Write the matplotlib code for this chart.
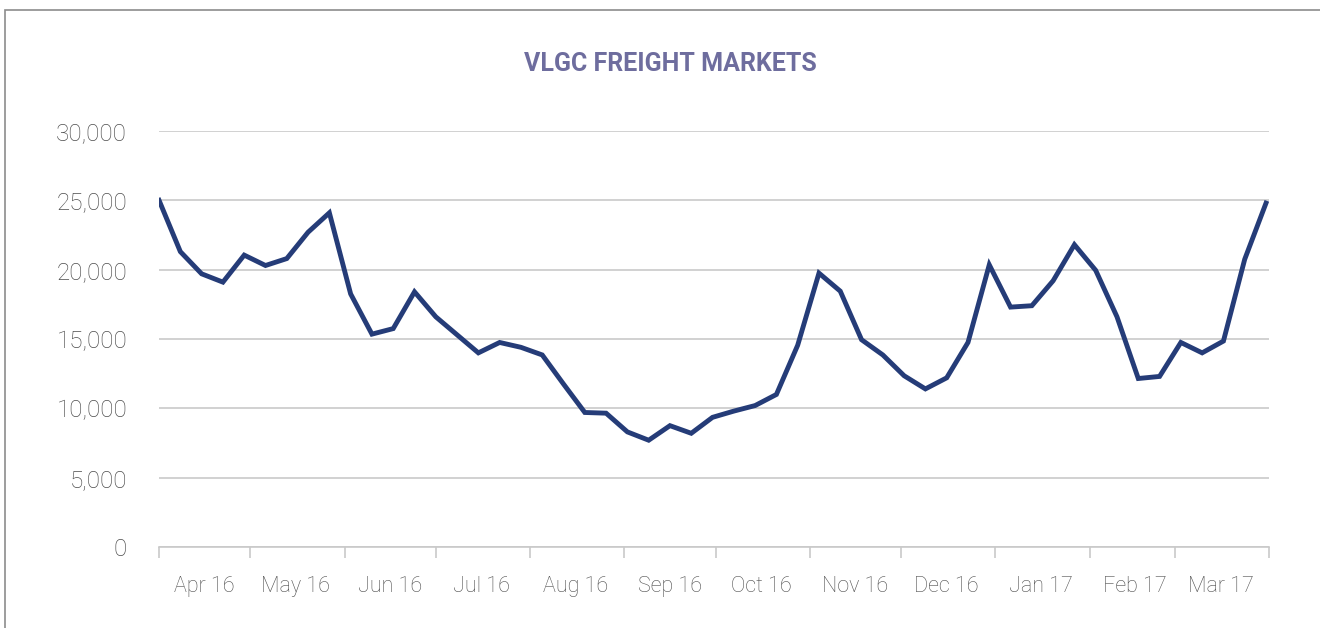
import numpy as np
import matplotlib
matplotlib.use('Agg')
import matplotlib.pyplot as plt
import matplotlib.dates as mdates
from matplotlib.patches import Rectangle

# weekly VLGC freight rates, Apr 2016 - Mar 2017
start_date = '2016-04-01'
rates = [25000, 21300, 19700, 19100, 21050, 20300, 20800, 22700, 24100, 18250,
         15350, 15750, 18400, 16600, 15300, 14000, 14750, 14400, 13850, 11750,
         9700, 9650, 8300, 7700, 8750, 8200, 9350, 9800, 10200, 11000,
         14550, 19750, 18450, 14950, 13850, 12350, 11400, 12200, 14750, 20350,
         17300, 17400, 19200, 21800, 19950, 16600, 12150, 12300, 14750, 14000,
         14850, 20750, 24800]
yticks = [0, 5000, 10000, 15000, 20000, 25000, 30000]
title = 'VLGC FREIGHT MARKETS'

dates = np.arange(np.datetime64(start_date), np.datetime64(start_date) + 7 * len(rates), 7)

plt.rcParams['font.family'] = ['Roboto', 'DejaVu Sans']

fig = plt.figure(figsize=(13.2, 6.28), dpi=100)
ax = fig.add_axes([0.1205, 0.129, 0.8409, 0.6624])

ax.plot(dates, rates, color='#253c78', lw=3.5, solid_joinstyle='miter', zorder=3)

ax.set_ylim(0, 30000)
ax.set_yticks(yticks)
ax.yaxis.set_major_formatter(matplotlib.ticker.FuncFormatter(lambda v, p: f'{int(v):,}'))
ax.grid(axis='y', color='#c9c9c9', lw=1.2)
ax.set_axisbelow(True)

ax.set_xlim(np.datetime64('2016-04-01'), np.datetime64('2017-04-01'))
ax.xaxis.set_major_locator(mdates.MonthLocator())
ax.xaxis.set_major_formatter(matplotlib.ticker.NullFormatter())
ax.xaxis.set_minor_locator(mdates.MonthLocator(bymonthday=16))
ax.xaxis.set_minor_formatter(mdates.DateFormatter('%b %y'))

for s in ['top', 'right', 'left']:
    ax.spines[s].set_visible(False)
ax.spines['bottom'].set_color('#c9c9c9')
ax.spines['bottom'].set_linewidth(1.2)

ax.tick_params(axis='x', which='major', length=8, color='#c9c9c9', width=1.2)
ax.tick_params(axis='x', which='minor', length=0, pad=21, labelsize=15.5, labelcolor='#4d4d4d')
ax.tick_params(axis='y', length=0, pad=23, labelsize=17.5, labelcolor='#4d4d4d')
for lbl in ax.get_xticklabels(minor=True) + ax.get_yticklabels():
    lbl.set_fontweight('light')

fig.text(0.508, 0.898, title, ha='center', va='center', fontsize=18,
         fontweight='bold', color='#6e6d9e')

# frame around the chart panel
fig.patches.append(Rectangle((0.0035, -0.1), 1.2, 1.084, transform=fig.transFigure,
                             fill=False, edgecolor='#8c8c8c', lw=1.2))

plt.savefig('out.png', dpi=100)
